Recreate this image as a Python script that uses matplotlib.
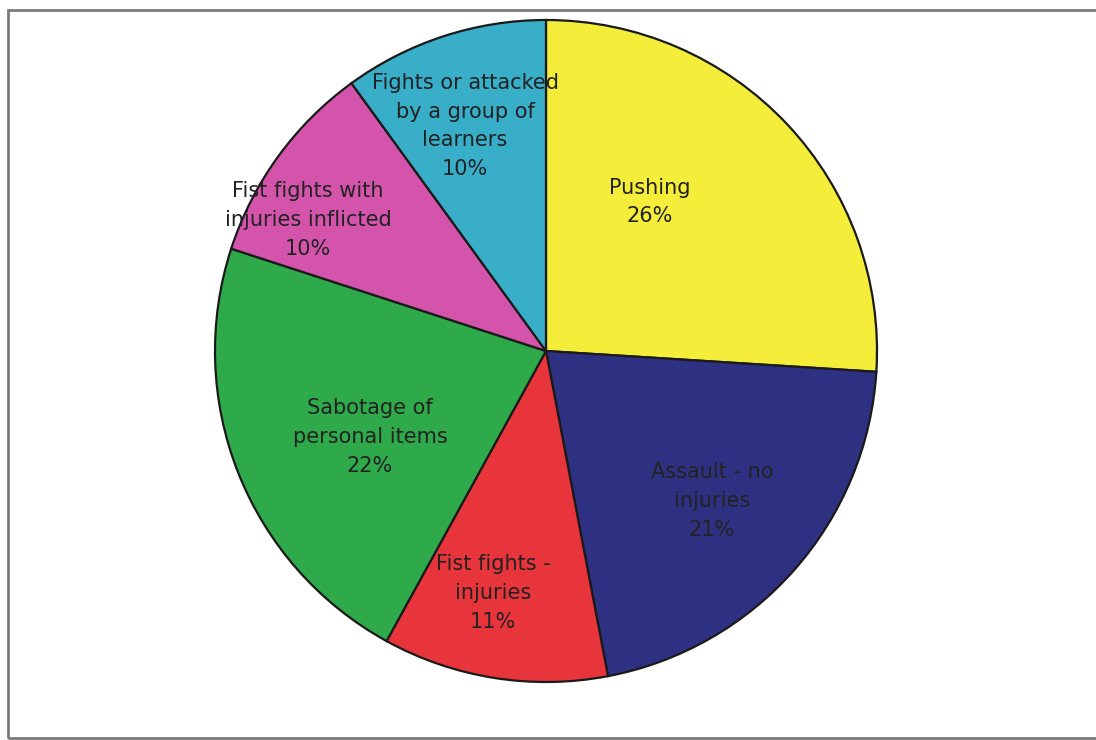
import matplotlib
matplotlib.use("Agg")
import matplotlib.pyplot as plt
from matplotlib.patches import Rectangle

# Types of physical bullying reported by learners (percent)
categories = [
    "Pushing",
    "Assault - no\ninjuries",
    "Fist fights -\ninjuries",
    "Sabotage of\npersonal items",
    "Fist fights with\ninjuries inflicted",
    "Fights or attacked\nby a group of\nlearners",
]
shares = [26, 21, 11, 22, 10, 10]
colors = ["#F4EE3A", "#2E3182", "#E8353B", "#2EAA4B", "#D454AC", "#38AEC8"]

W, H = 1096, 740
fig = plt.figure(figsize=(W / 100, H / 100), dpi=100)
ax = fig.add_axes([0, 0, 1, 1])

cx, cy, r = 546, H - 351, 331
wedges, _ = ax.pie(
    shares,
    colors=colors,
    startangle=90,
    counterclock=False,
    center=(cx, cy),
    radius=r,
    frame=True,
    wedgeprops=dict(edgecolor="#1a1a1a", linewidth=1.6),
)
ax.set_xlim(0, W)
ax.set_ylim(0, H)
ax.set_aspect("equal")
ax.axis("off")

# Label anchor points (pixels from top-left)
label_pos = [(650, 202), (712, 501), (493, 593), (370, 437), (308, 220), (465, 126)]
for name, val, (px, py) in zip(categories, shares, label_pos):
    ax.text(px, H - py, f"{name}\n{val}%", ha="center", va="center",
            fontsize=15, family="DejaVu Sans", color="#222222",
            linespacing=1.55)

# Outer frame
fig.patches.append(Rectangle((8 / W, 2 / H), (W - 6) / W, (H - 12) / H,
                             transform=fig.transFigure, fill=False,
                             edgecolor="#7a7a7a", linewidth=2))

fig.savefig("out.png", dpi=100, facecolor="white")
